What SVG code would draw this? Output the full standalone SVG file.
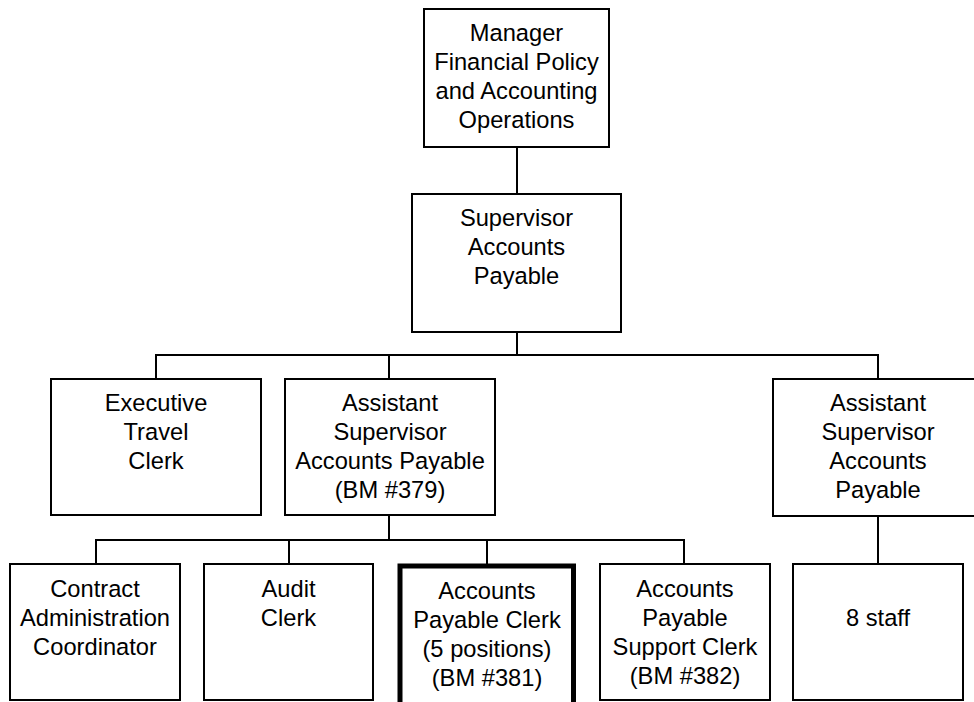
<svg xmlns="http://www.w3.org/2000/svg" width="974" height="702" viewBox="0 0 974 702">
<style>
.box{fill:#fff;stroke:#000;stroke-width:2}
.thick{fill:#fff;stroke:#000;stroke-width:5}
.lbl{font-family:"Liberation Sans",Arial,sans-serif;font-size:23.7px;fill:#000;text-anchor:middle}
.con line{stroke:#000;stroke-width:2}
</style>
<rect width="974" height="702" fill="#fff"/>
<g class="con" id="connectors">
<line x1="517" y1="147" x2="517" y2="194"/>
<line x1="517" y1="332" x2="517" y2="355"/>
<line x1="155" y1="355" x2="879" y2="355"/>
<line x1="156" y1="355" x2="156" y2="379"/>
<line x1="389" y1="355" x2="389" y2="379"/>
<line x1="878" y1="355" x2="878" y2="379"/>
<line x1="389" y1="515" x2="389" y2="540"/>
<line x1="95" y1="540" x2="685" y2="540"/>
<line x1="96" y1="540" x2="96" y2="564"/>
<line x1="289" y1="540" x2="289" y2="564"/>
<line x1="487" y1="540" x2="487" y2="564"/>
<line x1="684" y1="540" x2="684" y2="564"/>
<line x1="878" y1="516" x2="878" y2="564"/>
</g>
<g id="manager">
<rect class="box" x="424" y="9" width="185" height="138"/>
<text class="lbl" x="516.5" y="41">Manager</text>
<text class="lbl" x="516.5" y="70">Financial Policy</text>
<text class="lbl" x="516.5" y="99">and Accounting</text>
<text class="lbl" x="516.5" y="128">Operations</text>
</g>
<g id="supervisor">
<rect class="box" x="412" y="194" width="209" height="138"/>
<text class="lbl" x="516.5" y="226">Supervisor</text>
<text class="lbl" x="516.5" y="255">Accounts</text>
<text class="lbl" x="516.5" y="284">Payable</text>
</g>
<g id="exec-travel">
<rect class="box" x="51" y="379" width="210" height="136"/>
<text class="lbl" x="156" y="411">Executive</text>
<text class="lbl" x="156" y="440">Travel</text>
<text class="lbl" x="156" y="469">Clerk</text>
</g>
<g id="asst-sup-379">
<rect class="box" x="285" y="379" width="210" height="136"/>
<text class="lbl" x="390" y="411">Assistant</text>
<text class="lbl" x="390" y="440">Supervisor</text>
<text class="lbl" x="390" y="469">Accounts Payable</text>
<text class="lbl" x="390" y="498">(BM #379)</text>
</g>
<g id="asst-sup-right">
<rect class="box" x="773" y="379" width="210" height="137"/>
<text class="lbl" x="878" y="411">Assistant</text>
<text class="lbl" x="878" y="440">Supervisor</text>
<text class="lbl" x="878" y="469">Accounts</text>
<text class="lbl" x="878" y="498">Payable</text>
</g>
<g id="contract">
<rect class="box" x="10" y="564" width="170" height="136"/>
<text class="lbl" x="95" y="597">Contract</text>
<text class="lbl" x="95" y="626">Administration</text>
<text class="lbl" x="95" y="655">Coordinator</text>
</g>
<g id="audit">
<rect class="box" x="204" y="564" width="169" height="136"/>
<text class="lbl" x="288.5" y="597">Audit</text>
<text class="lbl" x="288.5" y="626">Clerk</text>
</g>
<g id="ap-clerk">
<rect class="thick" x="400" y="566" width="173.5" height="150"/>
<text class="lbl" x="487" y="599">Accounts</text>
<text class="lbl" x="487" y="628">Payable Clerk</text>
<text class="lbl" x="487" y="657">(5 positions)</text>
<text class="lbl" x="487" y="686">(BM #381)</text>
</g>
<g id="ap-support">
<rect class="box" x="600" y="564" width="170" height="136"/>
<text class="lbl" x="685" y="597">Accounts</text>
<text class="lbl" x="685" y="626">Payable</text>
<text class="lbl" x="685" y="655">Support Clerk</text>
<text class="lbl" x="685" y="684">(BM #382)</text>
</g>
<g id="staff8">
<rect class="box" x="793" y="564" width="170" height="136"/>
<text class="lbl" x="878" y="626">8 staff</text>
</g>
</svg>
